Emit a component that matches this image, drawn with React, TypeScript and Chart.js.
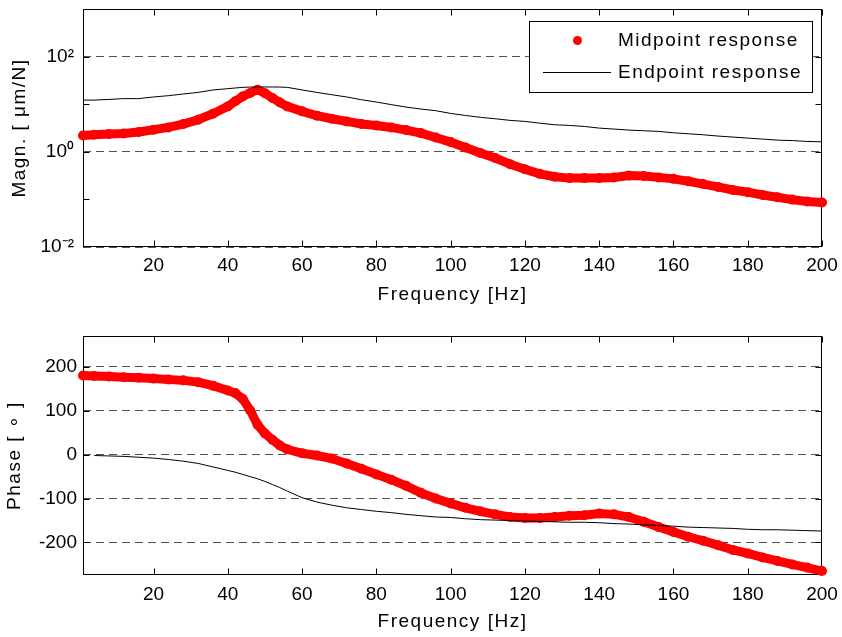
import React, { useEffect, useRef } from "react";
import { Chart, registerables } from "chart.js";

Chart.register(...registerables);

const FONT = "'Liberation Sans', Arial, Helvetica, sans-serif";
const TEXT_SPACING = "1.5px";

// ---------------- data ----------------
const frequencies = [
  1, 4, 8, 12, 16, 20, 24, 28, 32, 36, 40, 42, 44, 46, 48, 50, 52, 54, 56, 60,
  64, 68, 72, 76, 80, 84, 88, 92, 96, 100, 104, 108, 112, 116, 120, 124, 128,
  132, 136, 140, 144, 148, 152, 156, 160, 164, 168, 172, 176, 180, 184, 188,
  192, 196, 200,
];

const midpointMagnitude = [
  2.2, 2.28, 2.36, 2.43, 2.6, 2.9, 3.25, 3.83, 4.72, 6.3, 9.0, 11.5, 14.6, 17.2,
  20.2, 17.0, 13.5, 10.9, 9.0, 7.07, 5.73, 4.95, 4.35, 3.83, 3.58, 3.25, 2.86,
  2.47, 2.0, 1.6, 1.23, 0.94, 0.74, 0.55, 0.43, 0.344, 0.3, 0.28, 0.28, 0.28,
  0.288, 0.317, 0.31, 0.29, 0.27, 0.24, 0.21, 0.183, 0.158, 0.142, 0.124,
  0.111, 0.099, 0.09, 0.086,
];

const endpointMagnitude = [
  12.2, 12.2, 12.6, 13.1, 13.1, 14.2, 15.1, 16.4, 17.7, 19.9, 21.2, 21.9, 22.6,
  22.9, 23.0, 23.0, 23.0, 22.9, 22.6, 19.9, 17.7, 15.8, 14.2, 12.4, 11.1, 9.8,
  8.7, 7.9, 7.3, 6.4, 5.8, 5.3, 4.95, 4.57, 4.35, 4.0, 3.7, 3.58, 3.41, 3.15,
  3.0, 2.86, 2.77, 2.68, 2.51, 2.39, 2.28, 2.14, 2.04, 1.94, 1.85, 1.76, 1.72,
  1.65, 1.62,
];

const midpointPhase = [
  180, 179, 178, 176, 175, 173, 171, 169, 165, 157, 146, 140, 127, 101, 68, 48,
  34, 21, 12, 3, -2, -9, -20, -32, -45, -57, -71, -87, -100, -111, -121, -129,
  -136, -142, -144, -144, -142, -139, -138, -134, -136, -142, -153, -165, -176,
  -187, -196, -206, -217, -225, -234, -242, -250, -257, -265,
];

const endpointPhase = [
  null, -2, -3, -4, -6, -8, -11, -15, -20, -28, -36, -40, -45, -50, -55, -61,
  -68, -75, -83, -98, -108, -115, -121, -125, -129, -132, -136, -139, -142,
  -143, -146, -148, -149, -150, -151, -152, -153, -154, -154, -155, -157, -158,
  -160, -161, -163, -165, -166, -167, -168, -170, -171, -171, -172, -173, -174,
];

const seriesLabels = ["Midpoint response", "Endpoint response"];
const frequencyTicks = [20, 40, 60, 80, 100, 120, 140, 160, 180, 200];
const magnitudeTicks = [0.01, 0.1, 1, 10, 100, 1000];
const magnitudeLabelledExponents = [-2, 0, 2];
const phaseTicks = [-200, -100, 0, 100, 200];
const xTitle = "Frequency [Hz]";
const magnitudeTitle = "Magn. [ μm/N]";
const phaseTitle = "Phase [ ∘ ]";

// ---------------- helpers ----------------
const SUP: Record<string, string> = {
  "-": "⁻", "0": "⁰", "1": "¹", "2": "²", "3": "³", "4": "⁴",
  "5": "⁵", "6": "⁶", "7": "⁷", "8": "⁸", "9": "⁹",
};
const sup = (n: number) => String(n).split("").map((c) => SUP[c] || c).join("");

const RED = "#ff0000";
const GRID = "rgba(0,0,0,0.68)";

const textSpacingPlugin = {
  id: "textSpacing",
  beforeDraw(chart: any) {
    chart.ctx.letterSpacing = TEXT_SPACING;
  },
  beforeDatasetsDraw(chart: any) {
    const { ctx, chartArea: a, scales } = chart;
    ctx.letterSpacing = "0px";
    // MATLAB-style box with inward ticks on all four sides
    ctx.save();
    ctx.strokeStyle = "#000";
    ctx.lineWidth = 1;
    const L = Math.round(a.left) + 0.5;
    const R = Math.round(a.right) - 0.5;
    const T = Math.round(a.top) + 0.5;
    const B = Math.round(a.bottom) - 0.5;
    ctx.strokeRect(L, T, R - L, B - T);
    const TL = 6;
    ctx.beginPath();
    for (const t of scales.x.ticks) {
      const px = Math.round(scales.x.getPixelForValue(t.value)) + 0.5;
      ctx.moveTo(px, B);
      ctx.lineTo(px, B - TL);
      ctx.moveTo(px, T);
      ctx.lineTo(px, T + TL);
    }
    for (const t of scales.y.ticks) {
      const py = Math.round(scales.y.getPixelForValue(t.value)) + 0.5;
      if (py < T + 1 || py > B - 1) continue;
      ctx.moveTo(L, py);
      ctx.lineTo(L + TL, py);
      ctx.moveTo(R, py);
      ctx.lineTo(R - TL, py);
    }
    ctx.stroke();
    ctx.restore();
  },
};

const boxLegendPlugin = {
  id: "boxLegend",
  afterDraw(chart: any) {
    const { ctx, chartArea: a } = chart;
    const ds = chart.data.datasets;
    const w = 283;
    const h = 71;
    const x0 = Math.round(a.right - 10 - w);
    const y0 = Math.round(a.top + 12);
    ctx.save();
    ctx.letterSpacing = TEXT_SPACING;
    ctx.fillStyle = "#fff";
    ctx.fillRect(x0, y0, w, h);
    ctx.strokeStyle = "#000";
    ctx.lineWidth = 1;
    ctx.strokeRect(x0 + 0.5, y0 + 0.5, w, h);
    ctx.fillStyle = ds[0].backgroundColor;
    ctx.beginPath();
    ctx.arc(x0 + 48.5, y0 + 19.5, 4.5, 0, Math.PI * 2);
    ctx.fill();
    ctx.strokeStyle = ds[1].borderColor;
    ctx.beginPath();
    ctx.moveTo(x0 + 14, y0 + 51.5);
    ctx.lineTo(x0 + 82, y0 + 51.5);
    ctx.stroke();
    ctx.fillStyle = "#000";
    ctx.font = `19px ${FONT}`;
    ctx.textAlign = "left";
    ctx.textBaseline = "middle";
    ctx.fillText(ds[0].label, x0 + 89, y0 + 20);
    ctx.fillText(ds[1].label, x0 + 89, y0 + 52);
    ctx.restore();
  },
};

const pts = (ys: (number | null)[]) =>
  frequencies.map((f, i) => ({ x: f, y: ys[i] }));

function xScale(tickPad: number, titlePad: number, height: number) {
  return {
    type: "linear",
    min: 1,
    max: 200,
    afterBuildTicks: (s: any) => {
      s.ticks = frequencyTicks.map((v) => ({ value: v }));
    },
    afterFit: (s: any) => {
      s.height = height;
      s.paddingLeft = 0;
      s.paddingRight = 0;
    },
    grid: { display: false, drawTicks: false },
    border: { display: false },
    ticks: {
      z: 1,
      autoSkip: false,
      maxRotation: 0,
      padding: tickPad,
      color: "#000",
      font: { family: FONT, size: 19 },
    },
    title: {
      display: true,
      text: xTitle,
      color: "#000",
      font: { family: FONT, size: 19 },
      padding: { top: 0, bottom: titlePad },
    },
  };
}

function makeOptions(xs: any, ys: any, top: number) {
  return {
    responsive: true,
    maintainAspectRatio: false,
    animation: false,
    layout: { padding: { left: 0, right: 20, top, bottom: 0 } },
    plugins: { legend: { display: false }, tooltip: { enabled: false } },
    scales: { x: xs, y: ys },
  };
}

function datasets(mid: (number | null)[], end: (number | null)[]) {
  return [
    {
      label: seriesLabels[0],
      data: pts(mid),
      borderColor: RED,
      backgroundColor: RED,
      borderWidth: 9,
      pointRadius: 5,
      pointBorderWidth: 0,
      pointBackgroundColor: RED,
      tension: 0,
      clip: false,
      order: 1,
    },
    {
      label: seriesLabels[1],
      data: pts(end),
      borderColor: "#000",
      backgroundColor: "#000",
      borderWidth: 1,
      pointRadius: 0,
      tension: 0,
      order: 0,
    },
  ];
}

function yFit(s: any) {
  s.width = 83;
  s.paddingTop = 0;
  s.paddingBottom = 0;
}

function MagnitudeChart() {
  const ref = useRef<HTMLCanvasElement>(null);
  useEffect(() => {
    const ys = {
      type: "logarithmic",
      min: 0.01,
      max: 1000,
      afterBuildTicks: (s: any) => {
        s.ticks = magnitudeTicks.map((v) => ({ value: v }));
      },
      afterFit: yFit,
      grid: {
        drawTicks: false,
        lineWidth: 1,
        color: (c: any) => {
          const e = Math.round(Math.log10(c.tick.value));
          return magnitudeLabelledExponents.includes(e) ? GRID : "rgba(0,0,0,0)";
        },
      },
      border: { display: false, dash: [8, 5] },
      ticks: {
        z: 1,
        padding: 9,
        color: "#000",
        font: { family: FONT, size: 19 },
        callback: (v: any) => {
          const e = Math.round(Math.log10(Number(v)));
          return magnitudeLabelledExponents.includes(e) ? "10" + sup(e) : "";
        },
      },
      title: {
        display: true,
        text: magnitudeTitle,
        color: "#000",
        font: { family: FONT, size: 19 },
        padding: { top: 8, bottom: 0 },
      },
    };
    const chart = new Chart(ref.current as HTMLCanvasElement, {
      type: "line",
      data: { datasets: datasets(midpointMagnitude, endpointMagnitude) as any },
      options: makeOptions(xScale(7, 14, 73), ys, 9) as any,
      plugins: [textSpacingPlugin, boxLegendPlugin],
    });
    return () => chart.destroy();
  }, []);
  return (
    <div style={{ position: "absolute", left: 0, top: 0, width: 842, height: 320 }}>
      <canvas ref={ref} />
    </div>
  );
}

function PhaseChart() {
  const ref = useRef<HTMLCanvasElement>(null);
  useEffect(() => {
    const ys = {
      type: "linear",
      min: -274,
      max: 270,
      afterBuildTicks: (s: any) => {
        s.ticks = phaseTicks.map((v) => ({ value: v }));
      },
      afterFit: yFit,
      grid: { drawTicks: false, lineWidth: 1, color: GRID },
      border: { display: false, dash: [8, 5] },
      ticks: {
        z: 1,
        padding: 6,
        color: "#000",
        font: { family: FONT, size: 19 },
      },
      title: {
        display: true,
        text: phaseTitle,
        color: "#000",
        font: { family: FONT, size: 19 },
        padding: { top: 3, bottom: 0 },
      },
    };
    const chart = new Chart(ref.current as HTMLCanvasElement, {
      type: "line",
      data: { datasets: datasets(midpointPhase, endpointPhase) as any },
      options: makeOptions(xScale(8, 4, 62), ys, 16) as any,
      plugins: [textSpacingPlugin],
    });
    return () => chart.destroy();
  }, []);
  return (
    <div style={{ position: "absolute", left: 0, top: 320, width: 842, height: 317 }}>
      <canvas ref={ref} />
    </div>
  );
}

export default function App() {
  return (
    <div style={{ position: "absolute", left: 0, top: 0, width: 842, height: 637, background: "#fff" }}>
      <MagnitudeChart />
      <PhaseChart />
    </div>
  );
}
